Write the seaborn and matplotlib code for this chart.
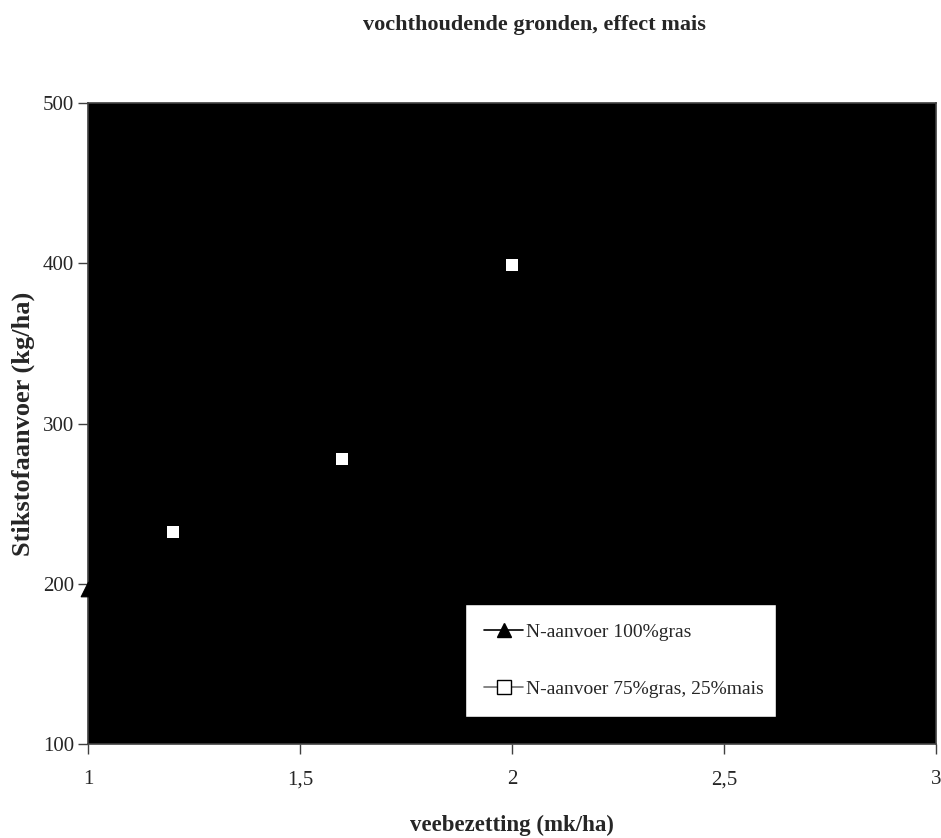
import matplotlib
matplotlib.use("Agg")
import matplotlib.pyplot as plt
import seaborn as sns
import pandas as pd
from matplotlib.lines import Line2D

# Data
gras_x = [1.0]
gras_y = [197]
mais_x = [1.2, 1.6, 2.0]
mais_y = [232, 278, 399]
title = "vochthoudende gronden, effect mais"
xlabel = "veebezetting (mk/ha)"
ylabel = "Stikstofaanvoer (kg/ha)"
label_gras = "N-aanvoer 100%gras"
label_mais = "N-aanvoer 75%gras, 25%mais"
xticks = [1, 1.5, 2, 2.5, 3]
xticklabels = ["1", "1,5", "2", "2,5", "3"]
yticks = [100, 200, 300, 400, 500]

sns.set_style("white")
plt.rcParams['font.family'] = ['Liberation Serif', 'DejaVu Serif']

fig = plt.figure(figsize=(9.41, 8.38), dpi=100)
ax = fig.add_axes([0.0935, 0.1122, 0.9012, 0.7648])
ax.set_facecolor("black")

df_g = pd.DataFrame({"x": gras_x, "y": gras_y})
df_m = pd.DataFrame({"x": mais_x, "y": mais_y})
sns.scatterplot(data=df_g, x="x", y="y", marker="^", s=110, color="black",
                edgecolor="black", ax=ax, clip_on=False, zorder=5)
sns.scatterplot(data=df_m, x="x", y="y", marker="s", s=80, color="white",
                edgecolor="white", linewidth=0, ax=ax, zorder=5)

ax.set_xlim(1, 3)
ax.set_ylim(100, 500)
ax.set_xticks(xticks)
ax.set_xticklabels(xticklabels)
ax.set_yticks(yticks)
ax.tick_params(axis="both", direction="out", length=7, width=1, color="#404040",
               labelsize=15, bottom=True, left=True)
ax.tick_params(axis="x", pad=12)
ax.tick_params(axis="y", pad=3)
for sp in ax.spines.values():
    sp.set_color("#404040")
    sp.set_linewidth(1.2)

ax.set_xlabel(xlabel, fontsize=16.5, fontweight="bold", labelpad=18)
ax.set_ylabel(ylabel, fontsize=19, fontweight="bold", labelpad=6)

fig.text(534/941, 1 - 25/838, title, ha="center", va="center",
         fontsize=16, fontweight="bold")

handles = [
    Line2D([0], [0], color="black", lw=1.2, marker="^", markersize=10,
           markerfacecolor="black", markeredgecolor="black"),
    Line2D([0], [0], color="#707070", lw=1.2, marker="s", markersize=10,
           markerfacecolor="white", markeredgecolor="black"),
]
leg = ax.legend(handles, [label_gras, label_mais], loc="lower left",
                bbox_to_anchor=((465 - 88) / 848, (744 - 717) / 641,
                                (776 - 465) / 848, (717 - 610) / 641),
                mode="expand", frameon=True, fancybox=False, fontsize=14,
                handlelength=2.0, handletextpad=0.15, labelspacing=2.0,
                borderpad=1.0, borderaxespad=0)
leg.get_frame().set_facecolor("white")
leg.get_frame().set_edgecolor("black")
leg.get_frame().set_alpha(1)

fig.savefig("out.png", dpi=100)
